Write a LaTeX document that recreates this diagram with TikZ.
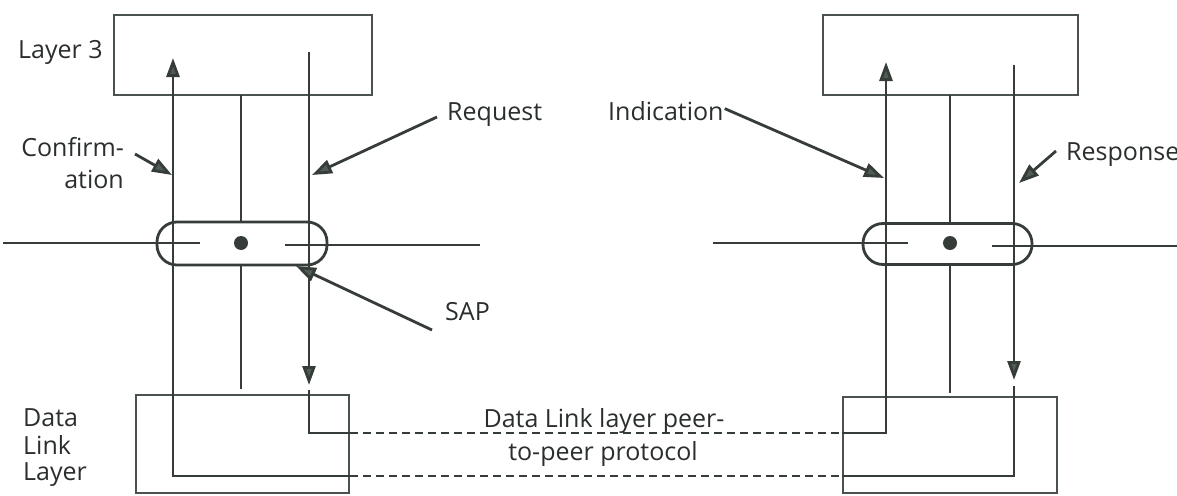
\documentclass[tikz,border=0pt]{standalone}
\usepackage{fontspec}
\setmainfont{Open Sans}
\usetikzlibrary{arrows.meta}
\definecolor{ink}{HTML}{363D39}
\definecolor{frame}{HTML}{4A524D}
\definecolor{tipc}{HTML}{525C56}
\definecolor{txt}{HTML}{2A2F2C}
\begin{document}
\begin{tikzpicture}[x=1pt,y=-1pt,
  layerbox/.style={draw=frame,line width=2.8pt,inner sep=0pt,rectangle},
  sapbox/.style={draw=ink,line width=2.8pt,inner sep=0pt,rectangle,rounded corners=20pt},
  wire/.style={draw=ink,line width=2.8pt},
  peer/.style={draw=ink,line width=2.8pt,dash pattern=on 8pt off 5pt},
  tip/.style={-{Triangle[length=19pt,width=13pt,fill=tipc]}},
  pointer/.style={draw=ink,line width=2.8pt,-{Triangle[length=20pt,width=14pt,fill=tipc]}},
  lbl/.style={text=txt,inner sep=0pt,font=\fontsize{25}{30}\selectfont},
  sapdot/.style={circle,fill=ink,inner sep=0pt,minimum size=14pt}]
\useasboundingbox (0,0) rectangle (1177,495);
\fill[white] (0,0) rectangle (1177,495);

% ---- boxes ----
\node[layerbox,minimum width=258pt,minimum height=80pt] (l3L) at (243,55) {};
\node[layerbox,minimum width=255pt,minimum height=80pt] (l3R) at (950.5,55) {};
\node[layerbox,minimum width=213pt,minimum height=98pt] (dlL) at (242.5,444) {};
\node[layerbox,minimum width=214pt,minimum height=96pt] (dlR) at (950,445) {};
\node[sapbox,minimum width=170pt,minimum height=43pt] (capL) at (242,243.5) {};
\node[sapbox,minimum width=169pt,minimum height=41pt] (capR) at (947.5,244) {};
\node[sapdot] (dotL) at (241,243) {};
\node[sapdot] (dotR) at (950,243) {};

% ---- points on the service primitives ----
\coordinate (cfT) at (173,58);   \coordinate (cfB) at (173,476);
\coordinate (rqT) at (309,52);   \coordinate (rqA) at (309,385);
\coordinate (rqC) at (309,390);  \coordinate (rqB) at (309,433);
\coordinate (inT) at (886,62);   \coordinate (inB) at (886,433);
\coordinate (rsT) at (1014,65);  \coordinate (rsA) at (1014,380);
\coordinate (rsC) at (1014,386); \coordinate (rsB) at (1014,476);
\coordinate (mLt) at (241,95);   \coordinate (mLb) at (241,389);
\coordinate (mRt) at (950,95);   \coordinate (mRb) at (950,393);

% ---- layer boundary lines through the SAPs ----
\coordinate (hL1) at (3,243);    \coordinate (hL2) at (200,243);
\coordinate (hL3) at (285,245);  \coordinate (hL4) at (480,245);
\coordinate (hR1) at (713,243);  \coordinate (hR2) at (908,243);
\coordinate (hR3) at (992,246);  \coordinate (hR4) at (1177,246);
\draw[wire] (hL1) -- (hL2);
\draw[wire] (hL3) -- (hL4);
\draw[wire] (hR1) -- (hR2);
\draw[wire] (hR3) -- (hR4);

% ---- middle lines ----
\draw[wire] (mLt) -- (mLt |- capL.north);
\draw[wire] (mLt |- capL.south) -- (mLb);
\draw[wire] (mRt) -- (mRt |- capR.north);
\draw[wire] (mRt |- capR.south) -- (mRb);

% ---- left station: confirmation and request ----
\draw[wire,tip] (dlL.east |- cfB) -- (cfB) -- (cfT);
\draw[wire,tip] (rqT) -- (rqA);
\draw[wire] (rqC) -- (rqB) -- (dlL.east |- rqB);

% ---- right station: indication and response ----
\draw[wire,tip] (dlR.west |- inB) -- (inB) -- (inT);
\draw[wire,tip] (rsT) -- (rsA);
\draw[wire] (rsC) -- (rsB) -- (dlR.west |- rsB);

% ---- peer-to-peer protocol ----
\draw[peer] (dlL.east |- rqB) -- (dlR.west |- inB);
\draw[peer] (dlL.east |- cfB) -- (dlR.west |- rsB);

% ---- labels ----
\node[lbl,anchor=base west] (tL3) at (18,59) {Layer 3};
\node[lbl,anchor=base east] (tCf1) at (124,156) {Confirm-};
\node[lbl,anchor=base east] (tCf2) at (124,188) {ation};
\node[lbl,anchor=base west] (tRq) at (447,120) {Request};
\node[lbl,anchor=base west] (tIn) at (608,120) {Indication};
\node[lbl,anchor=base west] (tRs) at (1066,160) {Response};
\node[lbl,anchor=base west] (tSap) at (445,320) {SAP};
\node[lbl,anchor=base west] (tD1) at (23,426) {Data};
\node[lbl,anchor=base west] (tD2) at (23,454) {Link};
\node[lbl,anchor=base west] (tD3) at (23,480) {Layer};
\node[lbl,anchor=base] (tP1) at (604,427) {Data Link layer peer-};
\node[lbl,anchor=base] (tP2) at (603,460) {to-peer protocol};

% ---- label pointers ----
\coordinate (pCf) at (172,175);
\coordinate (pRq) at (312,175);
\coordinate (pIn) at (884,178);
\coordinate (pRs) at (1019,183);
\coordinate (pSap) at (296,266);
\draw[pointer] (135,154) -- (pCf);
\draw[pointer] (437,117) -- (pRq);
\draw[pointer] (tIn.east) ++(1,-2) -- (pIn);
\draw[pointer] (1056,151) -- (pRs);
\draw[pointer] (432,330) -- (pSap);
\end{tikzpicture}
\end{document}
